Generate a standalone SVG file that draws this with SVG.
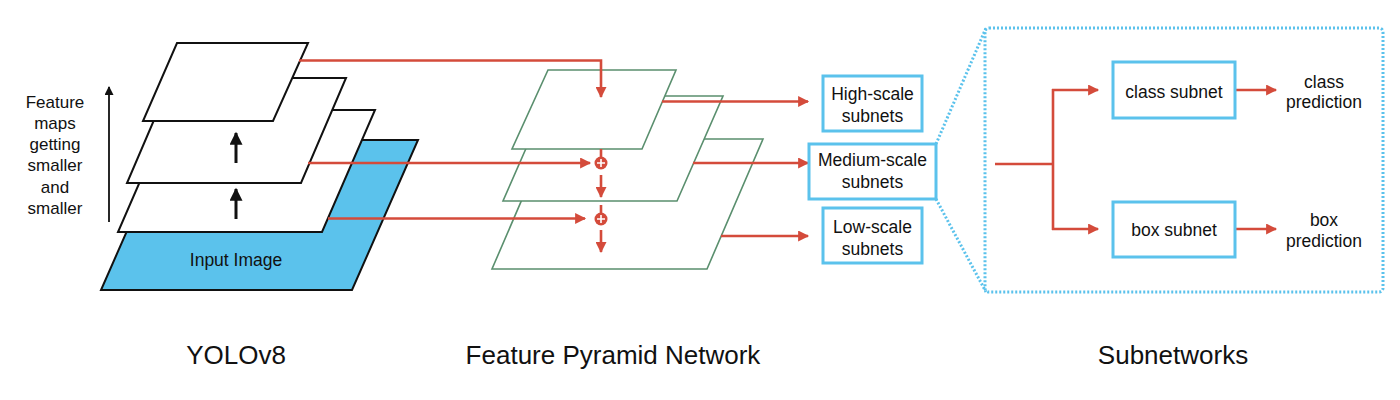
<svg xmlns="http://www.w3.org/2000/svg" width="1400" height="400" viewBox="0 0 1400 400">
<defs>
<style>
text{font-family:"Liberation Sans","Helvetica",Arial,sans-serif;fill:#111;}
.lbl{font-size:17.5px;text-anchor:middle;}
.side{font-size:17px;text-anchor:middle;}
.title{font-size:26px;text-anchor:middle;}
.layer{fill:#fff;stroke:#111;stroke-width:2;stroke-linejoin:miter;}
.blue{fill:#5BC2EC;stroke:#111;stroke-width:2;}
.fpn{fill:#fff;stroke:#5a8f6e;stroke-width:1.6;}
.red{stroke:#d44b3b;stroke-width:2.6;fill:none;}
.ra{stroke:#d44b3b;stroke-width:2.6;fill:none;marker-end:url(#rh);}
.box{fill:#fff;stroke:#5BC2EC;stroke-width:3;}
.dot{fill:none;stroke:#5BC2EC;stroke-width:3;stroke-dasharray:2 2;}
</style>
<marker id="rh" viewBox="0 0 10 10" refX="9" refY="5" markerUnits="userSpaceOnUse" markerWidth="13" markerHeight="11" orient="auto">
<path d="M0,0 L10,5 L0,10 z" fill="#d44b3b"/>
</marker>
<marker id="bh" viewBox="0 0 10 10" refX="9" refY="5" markerUnits="userSpaceOnUse" markerWidth="14" markerHeight="13" orient="auto">
<path d="M0,0 L10,5 L0,10 z" fill="#111"/>
</marker>
<marker id="bh2" viewBox="0 0 10 10" refX="9" refY="5" markerUnits="userSpaceOnUse" markerWidth="10" markerHeight="9" orient="auto">
<path d="M0,0 L10,5 L0,10 z" fill="#111"/>
</marker>
</defs>
<rect width="1400" height="400" fill="#fff"/>

<g id="yolo">
<polygon class="blue" points="167,140 418,140 352,290 101,290"/>
<text class="lbl" x="236" y="266">Input Image</text>
<polygon class="layer" points="171,110 375,110 322,232 118,232"/>
<polygon class="layer" points="172,78 346,78 301,183 127,183"/>
<polygon class="layer" points="177,43 308,43 273,121 143,121"/>
<line x1="236" y1="219" x2="236" y2="189" stroke="#111" stroke-width="3" marker-end="url(#bh)"/>
<line x1="236" y1="163" x2="236" y2="133" stroke="#111" stroke-width="3" marker-end="url(#bh)"/>
</g>

<g id="feature-maps-label">
<line x1="109" y1="222" x2="109" y2="87" stroke="#111" stroke-width="1.8" marker-end="url(#bh2)"/>
<text class="side" x="55"><tspan x="55" y="107.5">Feature</tspan><tspan x="55" y="128.5">maps</tspan><tspan x="55" y="150">getting</tspan><tspan x="55" y="171">smaller</tspan><tspan x="55" y="192.5">and</tspan><tspan x="55" y="213.5">smaller</tspan></text>
</g>

<g id="fpn">
<polygon class="fpn" points="548,139 763,139 707,269 492,269"/>
<polygon class="fpn" points="549,96 723,96 677,201 503,201"/>
<polygon class="fpn" points="548,70 676,70 642,149 512,149"/>
</g>

<g id="connectors">
<polyline class="ra" points="299,60.5 601,60.5 601,97"/>
<line class="ra" x1="308" y1="163" x2="590" y2="163"/>
<line class="ra" x1="328" y1="218.5" x2="585" y2="218.5"/>
<line class="red" x1="601" y1="149" x2="601" y2="158"/>
<line class="ra" x1="601" y1="175" x2="601" y2="197"/>
<line class="red" x1="601" y1="205" x2="601" y2="214"/>
<line class="ra" x1="601" y1="230" x2="601" y2="252"/>
<line class="ra" x1="662" y1="101.5" x2="808" y2="101.5"/>
<line class="ra" x1="693" y1="163" x2="808" y2="163"/>
<line class="ra" x1="721" y1="236" x2="808" y2="236"/>
<line class="red" x1="995" y1="164" x2="1053" y2="164"/>
<line class="red" x1="1053" y1="89" x2="1053" y2="230"/>
<line class="ra" x1="1052" y1="90" x2="1098" y2="90"/>
<line class="ra" x1="1052" y1="229" x2="1098" y2="229"/>
<line class="ra" x1="1235" y1="90" x2="1276" y2="90"/>
<line class="ra" x1="1235" y1="229" x2="1276" y2="229"/>
<line class="dot" x1="936" y1="144" x2="986" y2="28"/>
<line class="dot" x1="936" y1="199" x2="986" y2="292"/>
</g>

<g id="sum1">
<circle cx="601" cy="163" r="6.5" fill="#d44b3b"/>
<path d="M597,163 H605 M601,159 V167" stroke="#fff" stroke-width="1.6"/>
</g>
<g id="sum2">
<circle cx="601" cy="219" r="6.5" fill="#d44b3b"/>
<path d="M597,219 H605 M601,215 V223" stroke="#fff" stroke-width="1.6"/>
</g>

<g id="high-scale">
<rect class="box" x="823" y="76" width="99" height="55"/>
<text class="lbl" x="872.5" y="100">High-scale</text>
<text class="lbl" x="872.5" y="122">subnets</text>
</g>
<g id="medium-scale">
<rect class="box" x="809" y="144" width="127" height="55"/>
<text class="lbl" x="872.5" y="166">Medium-scale</text>
<text class="lbl" x="872.5" y="188">subnets</text>
</g>
<g id="low-scale">
<rect class="box" x="823" y="208" width="99" height="55"/>
<text class="lbl" x="872.5" y="232.5">Low-scale</text>
<text class="lbl" x="872.5" y="254.5">subnets</text>
</g>

<g id="subnetworks-frame">
<rect class="dot" x="985" y="28" width="398" height="264" rx="4"/>
</g>
<g id="class-subnet">
<rect class="box" x="1113" y="62" width="122" height="56"/>
<text class="lbl" x="1174" y="97.5">class subnet</text>
</g>
<g id="box-subnet">
<rect class="box" x="1113" y="202" width="122" height="55"/>
<text class="lbl" x="1174" y="236">box subnet</text>
</g>
<g id="class-prediction">
<text class="lbl" x="1324" y="87.5">class</text>
<text class="lbl" x="1324" y="107.5">prediction</text>
</g>
<g id="box-prediction">
<text class="lbl" x="1324" y="226">box</text>
<text class="lbl" x="1324" y="246.5">prediction</text>
</g>

<g id="titles">
<text class="title" x="236" y="364">YOLOv8</text>
<text class="title" x="613" y="364">Feature Pyramid Network</text>
<text class="title" x="1173" y="364">Subnetworks</text>
</g>
</svg>
